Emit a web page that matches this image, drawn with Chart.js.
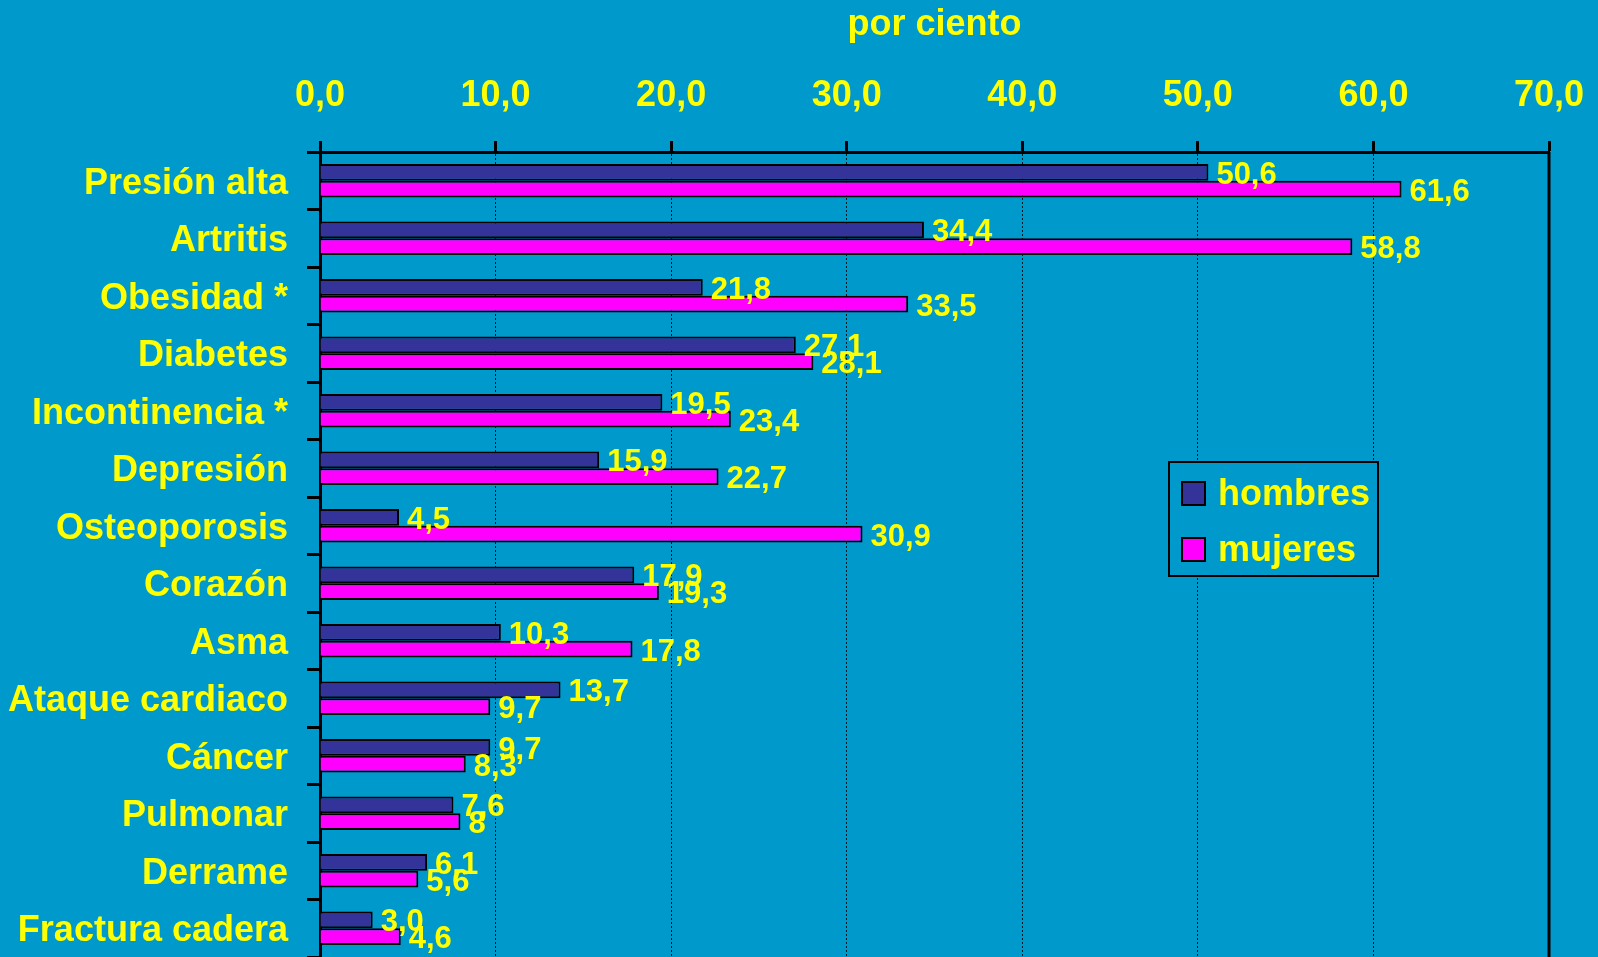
<!DOCTYPE html>
<html>
<head>
<meta charset="utf-8">
<script src="https://cdn.jsdelivr.net/npm/chart.js@4/dist/chart.umd.min.js"></script>
<style>
  html, body { margin: 0; padding: 0; background: #0099CC; }
  canvas { display: block; }
</style>
</head>
<body>
<canvas id="chart" width="1598" height="957"></canvas>
<script>
const categories = ["Presión alta", "Artritis", "Obesidad *", "Diabetes", "Incontinencia *", "Depresión",
    "Osteoporosis", "Corazón", "Asma", "Ataque cardiaco", "Cáncer", "Pulmonar", "Derrame", "Fractura cadera"];
const hombres = [50.6, 34.4, 21.8, 27.1, 19.5, 15.9, 4.5, 17.9, 10.3, 13.7, 9.7, 7.6, 6.1, 3.0];
const mujeres = [61.6, 58.8, 33.5, 28.1, 23.4, 22.7, 30.9, 19.3, 17.8, 9.7, 8.3, 8, 5.6, 4.6];
const xTicks = [0, 10, 20, 30, 40, 50, 60, 70];

const FONT = '"Liberation Sans", Arial, sans-serif';
const YELLOW = "#FFFF00";

const comma = s => s.replace(".", ",");

const valueLabels = {
    id: "valueLabels",
    afterDatasetsDraw(chart) {
        const ctx = chart.ctx;
        ctx.save();
        ctx.font = "bold 31px " + FONT;
        ctx.fillStyle = YELLOW;
        ctx.textBaseline = "middle";
        chart.data.datasets.forEach((ds, i) => {
            chart.getDatasetMeta(i).data.forEach((bar, j) => {
                ctx.fillText(ds.labelText(ds.data[j]), bar.x + 8, bar.y + 3);
            });
        });
        ctx.restore();
    }
};

const frameAndLegend = {
    id: "frameAndLegend",
    afterDraw(chart) {
        const ctx = chart.ctx;
        const area = chart.chartArea;
        ctx.save();
        // right frame line
        ctx.strokeStyle = "#000";
        ctx.lineWidth = 3;
        ctx.beginPath();
        ctx.moveTo(area.right, area.top);
        ctx.lineTo(area.right, area.bottom);
        ctx.stroke();

        // legend box
        ctx.lineWidth = 2;
        ctx.fillStyle = "#0099CC";
        ctx.fillRect(1169, 462, 209, 114);
        ctx.strokeRect(1169, 462, 209, 114);
        ctx.font = "bold 36px " + FONT;
        ctx.textBaseline = "alphabetic";
        chart.data.datasets.forEach((ds, i) => {
            const top = 482 + i * 56;
            ctx.fillStyle = ds.backgroundColor;
            ctx.fillRect(1182, top, 23, 23);
            ctx.strokeRect(1182, top, 23, 23);
            ctx.fillStyle = YELLOW;
            ctx.fillText(ds.label, 1218, top + 23);
        });
        ctx.restore();
    }
};

new Chart(document.getElementById("chart"), {
    type: "bar",
    data: {
        labels: categories,
        datasets: [{
            label: "hombres",
            data: hombres,
            backgroundColor: "#333399",
            borderColor: "#000",
            borderWidth: 2,
            borderSkipped: "start",
            labelText: v => comma(v.toFixed(1))
        }, {
            label: "mujeres",
            data: mujeres,
            backgroundColor: "#FF00FF",
            borderColor: "#000",
            borderWidth: 2,
            borderSkipped: "start",
            labelText: v => comma(String(v))
        }]
    },
    options: {
        indexAxis: "y",
        responsive: false,
        animation: false,
        devicePixelRatio: 1,
        categoryPercentage: 0.58,
        barPercentage: 1.0,
        layout: { padding: { left: 0, right: 49, top: 0, bottom: 0 } },
        plugins: {
            legend: { display: false },
            tooltip: { enabled: false }
        },
        scales: {
            x: {
                position: "top",
                min: 0,
                max: 70,
                afterBuildTicks: axis => { axis.ticks = xTicks.map(v => ({ value: v })); },
                afterFit: axis => {
                    axis.height = 152;
                    axis.paddingLeft = 0;
                    axis.paddingRight = 0;
                },
                ticks: {
                    color: YELLOW,
                    font: { family: FONT, size: 36, weight: "bold" },
                    padding: 23,
                    maxRotation: 0,
                    callback: v => comma(Number(v).toFixed(1))
                },
                grid: {
                    color: "rgba(0,0,0,0.85)",
                    lineWidth: 1,
                    drawTicks: true,
                    tickLength: 11,
                    tickColor: "#000",
                    tickWidth: 3
                },
                border: { display: true, color: "#000", width: 3, dash: [2, 2] },
                title: {
                    display: true,
                    text: "por ciento",
                    color: YELLOW,
                    font: { family: FONT, size: 36, weight: "bold" },
                    padding: { top: 3, bottom: 0 }
                }
            },
            y: {
                afterFit: axis => {
                    axis.width = 320;
                    axis.paddingTop = 0;
                    axis.paddingBottom = 0;
                },
                ticks: {
                    color: YELLOW,
                    font: { family: FONT, size: 36, weight: "bold" },
                    padding: 19,
                    labelOffset: 3,
                    autoSkip: false
                },
                grid: {
                    drawOnChartArea: false,
                    drawTicks: true,
                    tickLength: 13,
                    tickColor: "#000",
                    tickWidth: 3,
                    offset: true
                },
                border: { display: true, color: "#000", width: 3 }
            }
        }
    },
    plugins: [valueLabels, frameAndLegend]
});
</script>
</body>
</html>
